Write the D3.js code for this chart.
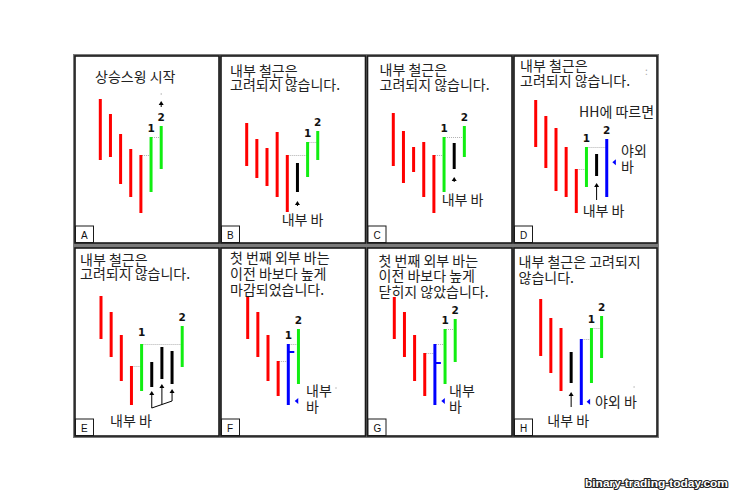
<!DOCTYPE html>
<html><head><meta charset="utf-8">
<script src="https://cdn.jsdelivr.net/npm/d3@7/dist/d3.min.js"></script>
<style>body{margin:0;background:#fff}svg{display:block}</style>
</head><body>
<svg id="c" width="739" height="500"></svg>
<script>
// ---------- data ----------
const panelLetters = ["A","B","C","D","E","F","G","H"];
const panelTexts = [
  ["상승스윙 시작"],
  ["내부 철근은","고려되지 않습니다."],
  ["내부 철근은","고려되지 않습니다."],
  ["내부 철근은","고려되지 않습니다."],
  ["내부 철근은","고려되지 않습니다."],
  ["첫 번째 외부 바는","이전 바보다 높게","마감되었습니다."],
  ["첫 번째 외부 바는","이전 바보다 높게","닫히지 않았습니다."],
  ["내부 철근은 고려되지","않습니다."]
];
const barHighs = [
  [146,131,111,96,90,108,119],
  [122,106,97,113,90,82,103,114],
  [132,114,98,103,90,108,102,119],
  [145,129,117,98,76,98,91,106],
  [141,125,102,71,93,75,90,86,111],
  [141,125,102,76,93,108],
  [140,125,102,84,93,108,118],
  [138,119,109,85,98,109,121]
];
const barLows = [
  [85,88,61,48,32,53,76],
  [79,67,59,48,33,53,68,85],
  [79,62,73,48,32,53,76,88],
  [98,77,54,48,32,58,69,48],
  [98,80,56,32,46,50,58,53,70],
  [98,80,56,41,32,53],
  [98,80,56,41,32,53,75],
  [81,64,46,54,32,54,79]
];
// r = down bar, g = up bar, k = inside bar, b = outside bar
const barKinds = ["rrrrrgg","rrrrrkgg","rrrrrgkg","rrrrrgkb","rrrrgkkkg","rrrrbg","rrrrbgg","rrrkbgg"];
// closing ticks on outside bars: [bar index, price]
const closeTicks = [[],[],[],[],[],[[4,85]],[[4,74]],[]];
// swing point labels: [bar index, label]
const swingLabels = [
  [[5,"1"],[6,"2"]],[[6,"1"],[7,"2"]],[[5,"1"],[7,"2"]],[[5,"1"],[7,"2"]],
  [[4,"1"],[8,"2"]],[[4,"1"],[5,"2"]],[[5,"1"],[6,"2"]],[[5,"1"],[6,"2"]]
];
// dotted high-links: [from bar, to bar] at the high of "from"
const highLinks = [
  [[4,5],[5,6]],[[4,6],[6,7]],[[4,5],[5,7]],[[4,5],[5,7]],
  [[3,4],[4,8]],[[3,4],[4,5]],[[3,4],[4,5],[5,6]],[[4,5],[5,6]]
];
// up arrows: [bar index, tip price, tail price]
const upArrows = [
  [[6,144,138]],[[5,44,39]],[[6,68,63]],[[6,62,45]],
  [[5,46,29],[6,53,32.5],[7,48,36]],[],[],[[3,45,30]]
];
// connector lines under arrows: [[idx,price],[idx,price]]
const arrowLinks = [[],[],[],[],[[[5,29],[7,36]]],[],[],[]];
// blue pointer markers: [bar position, price]
const pointers = [[],[],[],[[7.75,82.7]],[],[[4.83,36]],[[4.83,36]],[[4.72,35.3]]];
// faint stray dots: [bar position, price]
const strayDots = [[[6,151]],[],[],[],[],[[8.7,49]],[],[[9.2,50]]];
// annotation texts per panel (each entry = lines of one label)
const annoTexts = [
  [],
  [["내부 바"]],
  [["내부 바"]],
  [["HH에 따르면"],["야외","바"],["내부 바"],[":"]],
  [["내부 바"]],
  [["내부","바"]],
  [["내부","바"]],
  [["야외 바"],["내부 바"]]
];
const watermark = "binary-trading-today.com";

// ---------- layout ----------
const colLefts = [74, 220, 366.5, 513], rightEdge = 658;
const rowTops = [55, 247], rowBottoms = [244, 437];
const rowBase = [245, 437];
const firstBarX = [100.3, 246.7, 393.3, 535.7, 101, 247.7, 394.3, 540.7];
const barStep = 10.15;
const titlePos = [
  {x:95, y:82, lh:15},
  {x:230, y:75.5, lh:14.5},
  {x:379.5, y:75, lh:14.5},
  {x:520, y:71, lh:15},
  {x:80, y:264.5, lh:14.5},
  {x:230, y:263, lh:15.8},
  {x:378.5, y:266, lh:15.3},
  {x:518.5, y:267, lh:16}
];
const annoPos = [
  [],
  [[281.7,225]],
  [[441.7,204.5]],
  [[579,117],[621,156],[582.7,216],[645,75]],
  [[110,426]],
  [[306,396]],
  [[449,396]],
  [[595,407],[547.3,425.5]]
];
const annoLineH = 16;
const colors = {r:"#ff0000", g:"#11ee11", k:"#000000", b:"#0000ff"};

const svg = d3.select("#c");
const KFONT = "'Noto Sans CJK KR','Noto Sans',sans-serif";
const KSIZE = 14;

function multiline(g, x, y, lines, lh) {
  const faint = lines.length === 1 && lines[0] === ":";
  const t = g.append("text").attr("x",x).attr("y",y)
    .attr("font-family",KFONT).attr("font-size",faint?10:KSIZE).attr("fill",faint?"#aaa":"#222");
  lines.forEach((s,i) => t.append("tspan").attr("x",x).attr("dy", i===0?0:lh).text(s));
  return t;
}

// frame background (separators)
svg.append("rect").attr("x",73).attr("y",54).attr("width",rightEdge-73+1).attr("height",438-54)
  .attr("fill","#7a7a7a");

panelLetters.forEach((letter, p) => {
  const r = Math.floor(p/4), c = p%4;
  const left = colLefts[c], right = c<3 ? colLefts[c+1] : rightEdge;
  const top = rowTops[r], bottom = rowBottoms[r];
  const g = svg.append("g");
  g.append("rect").attr("x",left+1).attr("y",top+1)
    .attr("width",right-left-2).attr("height",bottom-top-2)
    .attr("fill","#fff").attr("stroke","#1a1a1a").attr("stroke-width",1.6);

  const y = d3.scaleLinear().domain([0,190]).range([rowBase[r], rowBase[r]-190]);
  const x = d3.scaleLinear().domain([0,1]).range([firstBarX[p], firstBarX[p]+barStep]);

  // dotted links
  highLinks[p].forEach(([a,b]) => {
    g.append("line").attr("x1",x(a)+1).attr("x2",x(b))
      .attr("y1",y(barHighs[p][a])+0.5).attr("y2",y(barHighs[p][a])+0.5)
      .attr("stroke","#b0b0b0").attr("stroke-width",1).attr("stroke-dasharray","1,1");
  });

  // bars
  g.selectAll("line.bar").data(barHighs[p].map((h,i)=>({i,h,l:barLows[p][i],k:barKinds[p][i]})))
    .enter().append("line").attr("class","bar")
    .attr("x1",d=>x(d.i)).attr("x2",d=>x(d.i))
    .attr("y1",d=>y(d.h)).attr("y2",d=>y(d.l))
    .attr("stroke",d=>colors[d.k]).attr("stroke-width",3);

  closeTicks[p].forEach(([i,pr]) => {
    g.append("line").attr("x1",x(i)).attr("x2",x(i)+6)
      .attr("y1",y(pr)).attr("y2",y(pr))
      .attr("stroke",colors[barKinds[p][i]]).attr("stroke-width",2);
  });

  // swing labels
  swingLabels[p].forEach(([i,t]) => {
    g.append("text").attr("x",x(i)).attr("y",y(barHighs[p][i])-(p===4&&t==="1"?8:5.5))
      .attr("text-anchor","middle").attr("font-family","'DejaVu Sans',sans-serif")
      .attr("font-weight","bold").attr("font-size",10.5).attr("fill","#111").text(t);
  });

  // arrows
  upArrows[p].forEach(([i,tip,tail]) => {
    const xx = x(i);
    g.append("line").attr("x1",xx).attr("x2",xx).attr("y1",y(tail)).attr("y2",y(tip)+2)
      .attr("stroke","#000").attr("stroke-width",1);
    g.append("path").attr("d",`M${xx},${y(tip)} L${xx-2.5},${y(tip)+4} L${xx+2.5},${y(tip)+4} Z`)
      .attr("fill","#000");
  });
  arrowLinks[p].forEach(([a,b]) => {
    g.append("line").attr("x1",x(a[0])).attr("y1",y(a[1])).attr("x2",x(b[0])).attr("y2",y(b[1]))
      .attr("stroke","#000").attr("stroke-width",1);
  });

  // blue pointers
  pointers[p].forEach(([pos,pr]) => {
    const xx = x(pos), yy = y(pr);
    g.append("path").attr("d",`M${xx-2},${yy} L${xx+1.5},${yy-3} L${xx+1.5},${yy+3} Z`).attr("fill","#0000ff");
  });
  strayDots[p].forEach(([pos,pr]) => {
    g.append("circle").attr("cx",x(pos)).attr("cy",y(pr)).attr("r",0.7).attr("fill","#aaa");
  });

  // title text
  multiline(g, titlePos[p].x, titlePos[p].y, panelTexts[p], titlePos[p].lh);
  annoTexts[p].forEach((lines,li) => {
    multiline(g, annoPos[p][li][0], annoPos[p][li][1], lines, annoLineH);
  });

  // letter box
  g.append("rect").attr("x",left+1.5).attr("y",bottom-18).attr("width",18).attr("height",16.5)
    .attr("fill","#fff").attr("stroke","#1a1a1a").attr("stroke-width",1);
  g.append("text").attr("x",left+7).attr("y",bottom-5.5)
    .attr("font-family","'Liberation Sans',Arial,sans-serif").attr("font-size",10).attr("fill","#111").text(letter);
});

// watermark
svg.append("text").attr("x",728).attr("y",487).attr("text-anchor","end")
  .attr("textLength",143).attr("lengthAdjust","spacingAndGlyphs")
  .attr("font-family","'Liberation Sans',Arial,sans-serif").attr("font-weight","bold").attr("font-size",11.5)
  .attr("fill","#fff").attr("stroke","#222").attr("stroke-width",2.2).attr("paint-order","stroke")
  .attr("stroke-linejoin","round").text(watermark);
</script>
</body></html>
